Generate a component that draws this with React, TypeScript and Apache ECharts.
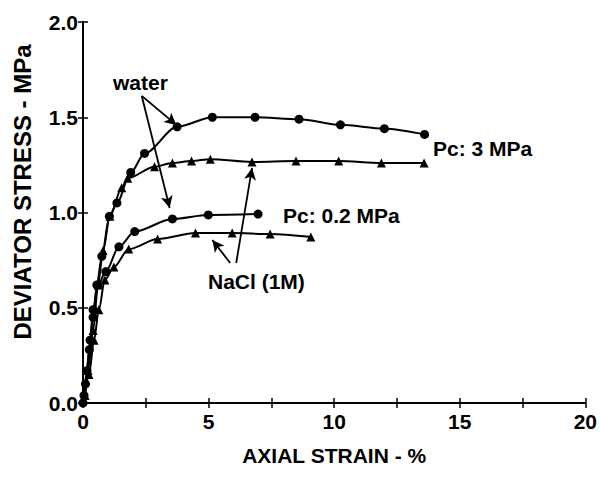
import React, { useEffect, useRef } from "react";
import * as echarts from "echarts";

const waterPc3: [number, number][] = [
  [0, 0.0], [0.1, 0.1], [0.25, 0.28], [0.4, 0.45], [0.55, 0.62], [0.75, 0.77],
  [1.05, 0.98], [1.35, 1.05], [1.9, 1.21], [2.45, 1.31], [3.75, 1.45], [5.15, 1.5],
  [6.85, 1.5], [8.6, 1.49], [10.25, 1.46], [12.0, 1.44], [13.6, 1.41],
];
const naclPc3: [number, number][] = [
  [0.08, 0.04], [0.2, 0.17], [0.4, 0.38], [0.6, 0.62], [0.8, 0.8], [1.07, 0.98],
  [1.54, 1.13], [1.78, 1.18], [2.85, 1.24], [3.56, 1.26], [4.32, 1.27], [5.07, 1.28],
  [6.73, 1.265], [8.48, 1.27], [10.18, 1.27], [11.88, 1.26], [13.58, 1.26],
];
const waterPc02: [number, number][] = [
  [0.04, 0.04], [0.16, 0.17], [0.28, 0.33], [0.4, 0.49], [0.6, 0.62], [0.91, 0.69],
  [1.43, 0.82], [2.06, 0.9], [3.56, 0.966], [4.99, 0.987], [6.97, 0.992],
];
const naclPc02: [number, number][] = [
  [0.08, 0.04], [0.24, 0.15], [0.44, 0.33], [0.63, 0.49], [0.87, 0.646], [1.23, 0.714],
  [1.82, 0.808], [2.97, 0.861], [4.48, 0.892], [5.94, 0.892], [7.45, 0.887], [9.07, 0.871],
];

const xTicks = [0, 5, 10, 15, 20];
const yTicks = [0, 0.5, 1.0, 1.5, 2.0];

// annotation arrows in data coordinates: [from, to]
const waterArrows: [[number, number], [number, number]][] = [
  [[2.34, 1.612], [3.72, 1.459]],
  [[2.34, 1.612], [3.45, 1.024]],
];
const naclArrows: [[number, number], [number, number]][] = [
  [[5.86, 0.735], [5.15, 0.856]],
  [[6.1, 0.735], [6.73, 1.234]],
];

const FONT = "'Liberation Sans', Arial, Helvetica, sans-serif";

export default function App() {
  const ref = useRef<HTMLDivElement>(null);
  useEffect(() => {
    if (!ref.current) return;
    const chart = echarts.init(ref.current, null, { renderer: "svg" });
    const txt = { fontFamily: FONT, fontWeight: "bold" as const, color: "#000" };
    const lineSeries = (name: string, data: [number, number][], symbol: string, extra: any = {}) => ({
      name,
      type: "line",
      data,
      symbol,
      symbolSize: 9,
      smooth: 0.3,
      smoothMonotone: "x",
      lineStyle: { color: "#000", width: 2 },
      itemStyle: { color: "#000" },
      z: 3,
      ...extra,
    });
    const arrowMark = (arrs: [[number, number], [number, number]][]) => ({
      silent: true,
      symbol: ["none", "arrow"],
      symbolSize: [9, 12],
      label: { show: false },
      lineStyle: { color: "#000", width: 1.8, type: "solid" },
      data: arrs.map(([a, b]) => [{ coord: a }, { coord: b }]),
    });
    chart.setOption({
      animation: false,
      backgroundColor: "#fff",
      grid: { left: 83, right: 12, top: 22, bottom: 75, containLabel: false },
      xAxis: [
        {
          type: "value",
          min: 0,
          max: 20,
          interval: 2.5,
          name: "AXIAL STRAIN - %",
          nameLocation: "middle",
          nameGap: 42,
          nameTextStyle: { ...txt, fontSize: 21 },
          axisLine: { lineStyle: { color: "#000", width: 2 } },
          axisTick: { inside: true, length: 5, lineStyle: { color: "#000", width: 1.5 } },
          axisLabel: {
            ...txt,
            fontSize: 21,
            margin: 8,
            formatter: (v: number) => (xTicks.includes(v) ? String(v) : ""),
          },
          splitLine: { show: false },
        },
        {
          type: "value",
          position: "top",
          min: 0,
          max: 20,
          interval: 2.5,
          axisLine: { show: true, lineStyle: { color: "#000", width: 2 } },
          axisTick: { show: true, inside: true, length: 5, lineStyle: { color: "#000", width: 1.5 } },
          axisLabel: { show: false },
          splitLine: { show: false },
        },
      ],
      yAxis: [
        {
          type: "value",
          min: 0,
          max: 2,
          interval: 0.5,
          axisLine: { show: true, lineStyle: { color: "#000", width: 2 } },
          axisTick: { show: true, inside: true, length: 5, lineStyle: { color: "#000", width: 1.5 } },
          axisLabel: {
            ...txt,
            fontSize: 21,
            margin: 5,
            formatter: (v: number) => (yTicks.includes(v) ? v.toFixed(1) : ""),
          },
          splitLine: { show: false },
        },
        {
          type: "value",
          position: "right",
          min: 0,
          max: 2,
          interval: 0.5,
          axisLine: { show: true, lineStyle: { color: "#000", width: 2 } },
          axisTick: { show: true, inside: true, length: 5, lineStyle: { color: "#000", width: 1.5 } },
          axisLabel: { show: false },
          splitLine: { show: false },
        },
      ],
      series: [
        lineSeries("water Pc 3 MPa", waterPc3, "circle", { markLine: arrowMark(waterArrows) }),
        lineSeries("NaCl Pc 3 MPa", naclPc3, "triangle", { markLine: arrowMark(naclArrows) }),
        lineSeries("water Pc 0.2 MPa", waterPc02, "circle"),
        lineSeries("NaCl Pc 0.2 MPa", naclPc02, "triangle"),
      ],
      graphic: [
        {
          type: "text",
          x: 22,
          y: 192,
          rotation: Math.PI / 2,
          style: { text: "DEVIATOR STRESS - MPa", ...txt, fill: "#000", fontSize: 24, align: "center", verticalAlign: "middle" },
        },
        { type: "text", x: 113, y: 82, style: { text: "water", ...txt, fill: "#000", fontSize: 21, verticalAlign: "middle" } },
        { type: "text", x: 433, y: 148, style: { text: "Pc: 3 MPa", ...txt, fill: "#000", fontSize: 21, verticalAlign: "middle" } },
        { type: "text", x: 283, y: 215, style: { text: "Pc: 0.2 MPa", ...txt, fill: "#000", fontSize: 21, verticalAlign: "middle" } },
        { type: "text", x: 208, y: 281, style: { text: "NaCl (1M)", ...txt, fill: "#000", fontSize: 21, verticalAlign: "middle" } },
      ],
    });
    return () => chart.dispose();
  }, []);
  return (
    <div
      ref={ref}
      style={{ position: "fixed", left: 0, top: 0, width: 600, height: 478, background: "#fff" }}
    />
  );
}
